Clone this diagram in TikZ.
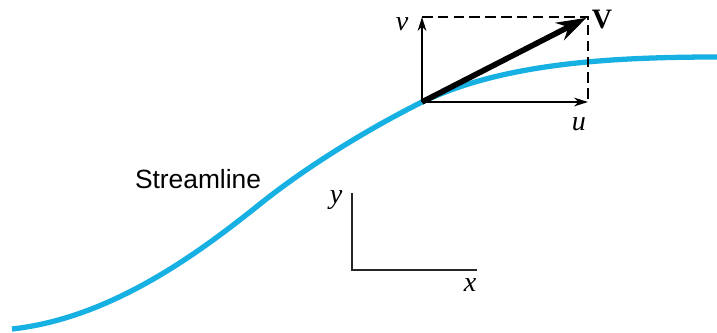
\documentclass[tikz,border=0pt]{standalone}
\usepackage{fontspec}
\setmainfont{Liberation Serif}
\setsansfont{Liberation Sans}
\usetikzlibrary{positioning,arrows.meta}
\definecolor{streamblue}{RGB}{22,176,226}

\begin{document}
\begin{tikzpicture}[x=0.02cm, y=-0.02cm,
        comp/.style={-{Stealth[length=8pt,width=5pt]}, line width=1pt},
        lbl/.style={font=\fontsize{16}{18}\selectfont\itshape, inner sep=0pt}]
        \useasboundingbox (0,0) rectangle (717,332);
        % streamline
        \coordinate (s0) at (12,329);
        \coordinate (s1) at (260,204);
        \coordinate (p) at (422,102);
        \coordinate (s2) at (717,57);
        \draw[streamblue, line width=3pt] (s0) .. controls (112,318) and (200,252) .. (s1)
            .. controls (310,164) and (372,127) .. (p)
            .. controls (500,65) and (600,57) .. (s2);
        \node[font=\sffamily\fontsize{15}{18}\selectfont] (sl) at (198,179) {Streamline};

        % velocity components
        \coordinate (pu) at (588,102);
        \coordinate (pv) at (422,17);
        \coordinate (pV) at (588,17);
        \draw[dash pattern=on 6pt off 3pt, line width=1pt] (pv) -- (pV) -- (pu);
        \draw[comp] (p) -- (pu);
        \draw[comp] (p) -- (pv);
        \draw[-{Stealth[length=17pt,width=11pt]}, line width=3.2pt, shorten >=1pt] (p) -- (pV);
        \node[lbl] (vlab) at (402,24) {v};
        \node[lbl] (ulab) at (579,124) {u};
        \node[font=\fontsize{16}{18}\selectfont\bfseries, inner sep=0pt] (Vlab) at (602,20) {V};

        % axes
        \coordinate (o) at (352,270);
        \coordinate (ox) at (477,270);
        \coordinate (oy) at (352,193);
        \draw[line width=1.1pt, black!85] (oy) -- (o) -- (ox);
        \node[lbl] (ylab) at (336,200) {y};
        \node[lbl] (xlab) at (470,285) {x};
    \end{tikzpicture}
\end{document}
